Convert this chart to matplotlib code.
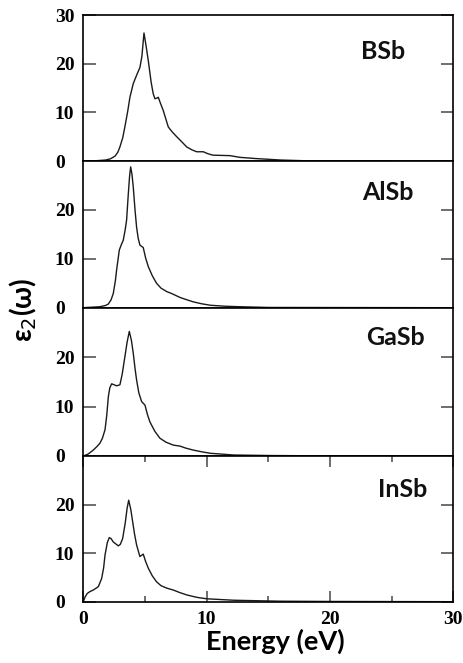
import matplotlib
matplotlib.use("Agg")
import matplotlib.pyplot as plt
from matplotlib.font_manager import FontProperties
from matplotlib.ticker import MultipleLocator

# espectros de la parte imaginaria de la funcion dielectrica
materiales = ["BSb", "AlSb", "GaSb", "InSb"]

e_bsb = [0, 1.0, 1.8, 2.2, 2.57, 2.8, 2.97, 3.2, 3.37, 3.6, 3.78, 4.05, 4.35, 4.59, 4.75,
         4.92, 5.1, 5.27, 5.5, 5.67, 5.81, 5.95, 6.08, 6.25, 6.48, 6.89, 7.2, 7.57, 8.0,
         8.38, 8.8, 9.19, 9.73, 10.1, 10.5, 11.2, 11.9, 12.7, 14.0, 16.0, 18.0, 30.0]
eps_bsb = [0, 0.05, 0.2, 0.45, 1.0, 1.8, 2.9, 4.8, 7.0, 10.2, 13.1, 15.9, 17.8, 19.2, 21.5,
           26.3, 23.5, 20.6, 16.2, 13.8, 12.8, 12.9, 13.1, 11.9, 10.4, 7.0, 6.0, 5.0, 3.9,
           2.9, 2.3, 1.9, 1.9, 1.5, 1.2, 1.15, 1.1, 0.75, 0.5, 0.2, 0.05, 0]

e_alsb = [0, 1.35, 1.8, 2.03, 2.25, 2.43, 2.6, 2.7, 2.92, 3.1, 3.24, 3.4, 3.51, 3.65, 3.75,
          3.84, 3.95, 4.05, 4.2, 4.32, 4.45, 4.59, 4.86, 5.05, 5.27, 5.6, 5.94, 6.3, 6.76,
          7.16, 7.84, 8.3, 8.91, 9.6, 10.3, 11.5, 12.7, 15.0, 30.0]
eps_alsb = [0, 0.2, 0.45, 0.75, 1.6, 2.9, 5.5, 7.7, 11.8, 13.0, 13.8, 16.0, 17.9, 23.3, 26.8,
            28.8, 27.2, 24.7, 19.8, 16.5, 14.2, 12.8, 12.3, 10.2, 8.4, 6.5, 5.0, 4.0, 3.3,
            2.9, 2.1, 1.7, 1.2, 0.8, 0.5, 0.3, 0.2, 0.05, 0]

e_gasb = [0, 0.4, 0.81, 1.1, 1.35, 1.55, 1.76, 1.9, 2.03, 2.15, 2.3, 2.5, 2.7, 2.97, 3.15,
          3.38, 3.55, 3.73, 3.9, 4.05, 4.2, 4.32, 4.5, 4.73, 5.0, 5.2, 5.4, 5.8, 6.21, 6.7,
          7.3, 7.84, 8.3, 8.91, 9.6, 10.3, 12.2, 15.0, 18.0, 30.0]
eps_gasb = [0, 0.4, 1.2, 1.9, 2.6, 3.6, 5.3, 8.2, 12.0, 13.8, 14.6, 14.4, 14.2, 14.4, 16.5,
            20.2, 23.0, 25.2, 23.4, 20.8, 17.6, 15.4, 12.8, 11.0, 10.3, 8.4, 6.9, 5.0, 3.6, 2.8,
            2.2, 2.0, 1.6, 1.2, 0.85, 0.55, 0.2, 0.1, 0.05, 0]

e_insb = [0, 0.15, 0.32, 0.55, 0.81, 1.22, 1.49, 1.65, 1.76, 1.95, 2.11, 2.25, 2.43, 2.84,
          3.0, 3.19, 3.4, 3.55, 3.68, 3.85, 4.0, 4.15, 4.32, 4.59, 4.86, 5.05, 5.27, 5.6,
          5.94, 6.3, 6.76, 7.3, 7.8, 8.38, 9.2, 10.0, 12.2, 16.0, 20.0, 30.0]
eps_insb = [0, 1.0, 1.7, 2.1, 2.4, 3.1, 4.8, 7.0, 9.6, 12.2, 13.2, 13.0, 12.3, 11.5,
            11.8, 13.0, 16.2, 19.2, 20.9, 19.0, 16.5, 14.0, 11.7, 9.3, 9.8, 8.3, 6.9, 5.3,
            4.1, 3.3, 2.8, 2.4, 1.9, 1.4, 0.9, 0.6, 0.3, 0.1, 0.05, 0]

energias = [e_bsb, e_alsb, e_gasb, e_insb]
espectros = [eps_bsb, eps_alsb, eps_gasb, eps_insb]

# posicion de cada etiqueta dentro de su panel
pos_etiqueta = [(0.809, 0.753), (0.824, 0.785), (0.843, 0.797), (0.863, 0.773)]

W, H = 463, 663
fig = plt.figure(figsize=(W / 100, H / 100), dpi=100)

izq, der = 83.3, 453.3
bordes = [(15, 161), (161, 307.7), (307.7, 456), (456, 601.7)]
fuente_num = FontProperties(family="Liberation Serif", weight="bold", size=14)
color_tick = "#555555"

for i, (arriba, abajo) in enumerate(bordes):
    ax = fig.add_axes([izq / W, 1 - abajo / H, (der - izq) / W, (abajo - arriba) / H])
    ax.plot(energias[i], espectros[i], color="#1a1a1a", lw=1.0)
    ax.set_xlim(0, 30)
    ax.set_ylim(0, 30)
    for s in ax.spines.values():
        s.set_linewidth(1.2)

    if i == 0:
        ax.set_yticks([0, 10, 20, 30])
    else:
        ax.set_yticks([0, 10, 20])
    ax.tick_params(axis="y", direction="in", length=9, width=1.2, color=color_tick,
                   left=True, right=True, pad=20.5)
    for lab in ax.get_yticklabels():
        lab.set_fontproperties(fuente_num)
        lab.set_horizontalalignment("left")

    if i == 3:
        ax.xaxis.set_major_locator(MultipleLocator(10))
        ax.xaxis.set_minor_locator(MultipleLocator(5))
        ax.tick_params(axis="x", which="major", direction="in", length=8, width=1.2,
                       color=color_tick, top=True, bottom=True, pad=7)
        ax.tick_params(axis="x", which="minor", direction="in", length=4.5, width=1.2,
                       color=color_tick, top=True, bottom=True)
        for lab in ax.get_xticklabels():
            lab.set_fontproperties(fuente_num)
    else:
        ax.set_xticks([])

    x, y = pos_etiqueta[i]
    ax.text(x, y, materiales[i], transform=ax.transAxes, ha="center", va="center",
            family="Lato", weight="bold", size=18, color="#111111")

fig.text(275 / W, 1 - 641 / H, "Energy (eV)", ha="center", va="center",
         family="Lato", weight="bold", size=19.5)
fig.text(23 / W, 1 - 310 / H, r"ε$_2$(ω)", ha="center", va="center",
         rotation=90, family="Lato", weight="bold", size=20)

fig.savefig("out.png", dpi=100)
